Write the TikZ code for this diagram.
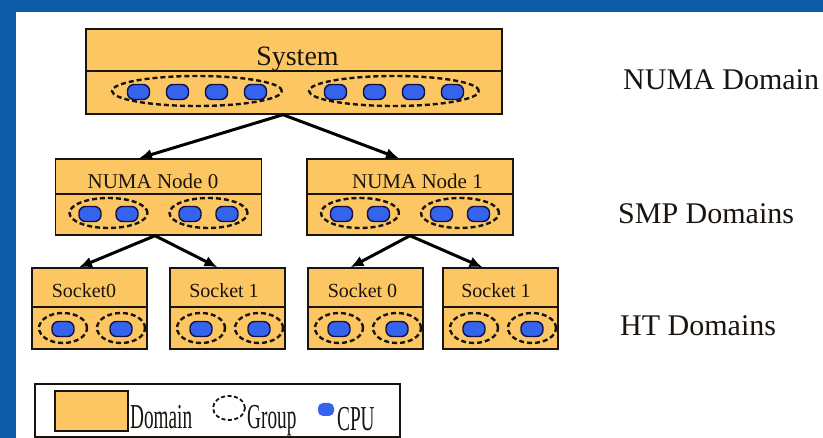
\documentclass[tikz,border=0pt]{standalone}
\usepackage{fontspec}
\setmainfont{Liberation Serif}
\newfontfamily\condfont[FakeStretch=0.55]{Liberation Serif}
\usetikzlibrary{arrows.meta,shapes.geometric}
\definecolor{bord}{RGB}{12,92,168}
\definecolor{dom}{RGB}{252,199,98}
\definecolor{cpu}{RGB}{52,100,235}
\definecolor{ink}{RGB}{25,20,15}
\begin{document}
\begin{tikzpicture}[x=1pt,y=-1pt,
 dombox/.style={draw=ink,line width=1.4pt,fill=dom,rectangle,inner sep=0pt},
 grp/.style={draw=ink,line width=2.4pt,dash pattern=on 5pt off 3pt,ellipse,inner sep=0pt},
 cpubox/.style={draw=ink!75!blue,line width=1.4pt,fill=cpu,rectangle,rounded corners=6.5pt,minimum width=22pt,minimum height=15pt,inner sep=0pt},
 lbl/.style={text=ink,inner sep=0pt,anchor=base},
 side/.style={text=ink,inner sep=0pt,anchor=base west,font=\fontsize{30}{34}\selectfont},
 leg/.style={text=ink,inner sep=0pt,anchor=base west,font=\condfont\fontsize{35}{40}\selectfont},
 arr/.style={draw=black,line width=3pt,-{Latex[length=13pt,width=11pt]}}
]
\useasboundingbox (0,0) rectangle (823,438);
\fill[white] (0,0) rectangle (823,438);
\fill[bord] (0,0) rectangle (823,12);
\fill[bord] (0,0) rectangle (16,438);

% System
\node[dombox,minimum width=416pt,minimum height=42pt] (sys-top) at (294,50) {};
\node[dombox,minimum width=416pt,minimum height=43pt] (sys-grp) at (294,92.5) {};
\node[lbl,font=\fontsize{28}{32}\selectfont] (sys-txt) at (297.5,66) {System};
\foreach \g/\gx in {1/197,2/394}{
  \node[grp,minimum width=170pt,minimum height=30pt] (sys-g\g) at (\gx,91) {};
  \foreach \c/\dx in {1/-58.5,2/-19.5,3/19.5,4/58.5}
    \node[cpubox] (sys-cpu\g\c) at (\gx+\dx,92) {};
}

% NUMA nodes
\foreach \n/\cx/\tx in {0/158.5/153,1/410/417.5}{
  \node[dombox,minimum width=206pt,minimum height=35pt] (numa\n-top) at (\cx,176.5) {};
  \node[dombox,minimum width=206pt,minimum height=41pt] (numa\n-grp) at (\cx,214.5) {};
  \node[lbl,font=\fontsize{21}{25}\selectfont] (numa\n-txt) at (\tx,189) {NUMA Node \n};
  \foreach \g/\dx in {1/-50,2/50}{
    \node[grp,minimum width=78pt,minimum height=30pt] (numa\n-g\g) at (\cx+\dx,213) {};
    \foreach \c/\ex in {1/-18.5,2/18.5}
      \node[cpubox] (numa\n-cpu\g\c) at (\cx+\dx+\ex,214) {};
  }
}

% Sockets
\foreach \s/\L/\txt/\tx in {a/32/Socket0/84,b/170/Socket 1/224,c/308/Socket 0/362.5,d/443/Socket 1/496}{
  \node[dombox,minimum width=115pt,minimum height=39pt] (sock\s-top) at (\L+57.5,287.5) {};
  \node[dombox,minimum width=115pt,minimum height=42pt] (sock\s-grp) at (\L+57.5,328) {};
  \node[lbl,font=\fontsize{20}{24}\selectfont] (sock\s-txt) at (\tx,298) {\txt};
  \foreach \g/\dx in {1/31,2/89}{
    \node[grp,minimum width=48pt,minimum height=30pt] (sock\s-g\g) at (\L+\dx,328) {};
    \node[cpubox] (sock\s-cpu\g) at (\L+\dx,329) {};
  }
}

% Connectors
\draw[arr] ([xshift=-11pt]sys-grp.south) -- ([xshift=-19.5pt]numa0-top.north);
\draw[arr] ([xshift=-11pt]sys-grp.south) -- ([xshift=-11pt]numa1-top.north);
\draw[arr] ([xshift=-3.5pt]numa0-grp.south) -- ([xshift=-10.5pt]socka-top.north);
\draw[arr] ([xshift=-3.5pt]numa0-grp.south) -- ([xshift=-10pt]sockb-top.north);
\draw[arr] (numa1-grp.south) -- ([xshift=-15pt]sockc-top.north);
\draw[arr] (numa1-grp.south) -- ([xshift=-18pt]sockd-top.north);

% Side labels
\node[side] (lab-numa) at (623,90) {NUMA Domain};
\node[side] (lab-smp) at (618,224) {SMP Domains};
\node[side] (lab-ht) at (620,336) {HT Domains};

% Legend
\node[draw=ink,line width=1.2pt,rectangle,minimum width=365pt,minimum height=53pt,inner sep=0pt] (legend) at (217.5,410.5) {};
\node[dombox,minimum width=73pt,minimum height=40pt] (leg-dom) at (91.5,411) {};
\node[leg] (leg-domtxt) at (130,429) {Domain};
\node[grp,line width=1.8pt,dash pattern=on 4pt off 2.5pt,minimum width=32pt,minimum height=24pt] (leg-grp) at (229,408) {};
\node[leg] (leg-grptxt) at (247,429) {Group};
\node[cpubox,draw=none,minimum width=16pt,minimum height=13pt,rounded corners=5pt] (leg-cpu) at (326,409.5) {};
\node[leg] (leg-cputxt) at (337,431) {CPU};
\end{tikzpicture}
\end{document}
